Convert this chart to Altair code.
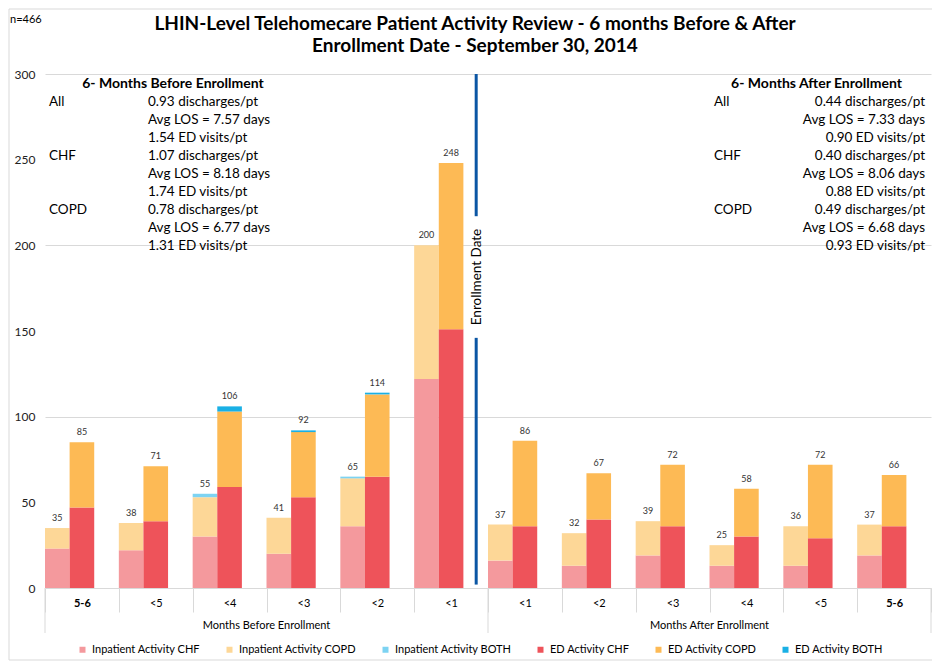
import altair as alt
import pandas as pd

FONT = "Lato"

# ---- data -------------------------------------------------------------
group_keys = ["B5-6", "B<5", "B<4", "B<3", "B<2", "B<1",
              "A<1", "A<2", "A<3", "A<4", "A<5", "A5-6"]

inpatient_chf = [23, 22, 30, 20, 36, 122, 16, 13, 19, 13, 13, 19]
inpatient_copd = [12, 16, 23, 21, 28, 78, 21, 19, 20, 12, 23, 18]
inpatient_both = [0, 0, 2, 0, 1, 0, 0, 0, 0, 0, 0, 0]
ed_chf = [47, 39, 59, 53, 65, 151, 36, 40, 36, 30, 29, 36]
ed_copd = [38, 32, 44, 38, 48, 97, 50, 27, 36, 28, 43, 30]
ed_both = [0, 0, 3, 1, 1, 0, 0, 0, 0, 0, 0, 0]

series_names = ["Inpatient Activity CHF", "Inpatient Activity COPD", "Inpatient Activity BOTH",
                "ED Activity CHF", "ED Activity COPD", "ED Activity BOTH"]
series_colors = ["#F4999D", "#FDD797", "#7DD3F2", "#EE535A", "#FDBA55", "#1AB0E5"]

period_labels = ["Months Before Enrollment", "Months After Enrollment"]
period_anchor = ["B<3", "A<4"]

left_heading = "6- Months Before Enrollment"
left_values = ["0.93 discharges/pt", "Avg LOS = 7.57 days", "1.54 ED visits/pt",
               "1.07 discharges/pt", "Avg LOS = 8.18 days", "1.74 ED visits/pt",
               "0.78 discharges/pt", "Avg LOS = 6.77 days", "1.31 ED visits/pt"]
right_heading = "6- Months After Enrollment"
right_values = ["0.44 discharges/pt", "Avg LOS = 7.33 days", "0.90 ED visits/pt",
                "0.40 discharges/pt", "Avg LOS = 8.06 days", "0.88 ED visits/pt",
                "0.49 discharges/pt", "Avg LOS = 6.68 days", "0.93 ED visits/pt"]
cohorts = ["All", "CHF", "COPD"]

title_lines = ["LHIN-Level Telehomecare Patient Activity Review - 6 months Before & After",
               "Enrollment Date - September 30, 2014"]

# enrollment marker extents (value units) with a gap for its label
enroll_top = [300, 146]
enroll_bottom = [217, 2]
enroll_label_y = [181.5]

# ---- tables -----------------------------------------------------------
rows = []
for kind, lists, names in [("Inpatient", [inpatient_chf, inpatient_copd, inpatient_both], series_names[:3]),
                           ("ED", [ed_chf, ed_copd, ed_both], series_names[3:])]:
    for o, (vals, name) in enumerate(zip(lists, names)):
        for k, v in zip(group_keys, vals):
            rows.append(dict(key=k, kind=kind, series=name, ord=o, value=v))
bars_df = pd.DataFrame(rows)

tot_rows = []
for i, k in enumerate(group_keys):
    tot_rows.append(dict(key=k, kind="Inpatient",
                         total=inpatient_chf[i] + inpatient_copd[i] + inpatient_both[i]))
    tot_rows.append(dict(key=k, kind="ED", total=ed_chf[i] + ed_copd[i] + ed_both[i]))
tot_df = pd.DataFrame(tot_rows)

dummy = pd.DataFrame({"d": [0]})

# ---- scales / axes ----------------------------------------------------
xs = alt.Scale(domain=group_keys, paddingInner=0, paddingOuter=0)
xo = alt.Scale(domain=["Inpatient", "ED", "gap"], paddingInner=0, paddingOuter=0)
ys = alt.Scale(domain=[0, 300], nice=False)

x_axis = alt.Axis(
    title=None, labelExpr="isString(datum.label) ? substring(datum.label, 1) : ''", labelAngle=0,
    tickBand="extent", tickSize=24, tickColor="#d9d9d9", domainColor="#d9d9d9",
    labelPadding=-15, labelFontSize=11, labelFont=FONT, labelColor="#000",
    labelFontWeight={"condition": {"test": "isString(datum.value) && indexof(datum.value, '5-6') >= 0",
                                   "value": "bold"}, "value": "normal"},
)
y_axis = alt.Axis(
    title=None, values=[0, 50, 100, 150, 200, 250, 300], ticks=False,
    domain=False, labelPadding=10, labelFontSize=12, labelFont=FONT, labelColor="#222",
    gridColor={"condition": {"test": "datum.value % 100 === 0 && datum.value > 0",
                             "value": "#d9d9d9"}, "value": "rgba(0,0,0,0)"},
)
leg = alt.Legend(
    title=None, orient="none", legendX=32, legendY=570, direction="horizontal",
    columns=6, columnPadding=23, symbolType="square", symbolSize=36,
    symbolStrokeWidth=0, labelFontSize=11, labelFont=FONT, labelColor="#000",
    labelOffset=4,
)

# ---- layers -----------------------------------------------------------
bars = alt.Chart(bars_df).mark_bar().encode(
    x=alt.X("key:N", scale=xs, axis=x_axis),
    xOffset=alt.XOffset("kind:N", scale=xo),
    y=alt.Y("value:Q", stack="zero", scale=ys, axis=y_axis),
    color=alt.Color("series:N", scale=alt.Scale(domain=series_names, range=series_colors), legend=leg),
    order=alt.Order("ord:Q", sort="ascending"),
)

totals = alt.Chart(tot_df).mark_text(dy=-10, fontSize=9, font=FONT, color="#333").encode(
    x=alt.X("key:N", scale=xs),
    xOffset=alt.XOffset("kind:N", scale=xo),
    y=alt.Y("total:Q", scale=ys),
    text="total:Q",
)

enroll_df = pd.DataFrame({"key": ["B<1", "B<1"], "y": enroll_top, "y2": enroll_bottom})
enroll = alt.Chart(enroll_df).mark_rule(color="#0B56A4", strokeWidth=3).encode(
    x=alt.X("key:N", scale=xs, bandPosition=0.84),
    y=alt.Y("y:Q", scale=ys),
    y2="y2:Q",
)
enroll_txt = alt.Chart(pd.DataFrame({"key": ["B<1"], "y": enroll_label_y, "t": ["Enrollment Date"]})).mark_text(
    angle=270, fontSize=13.5, font=FONT, color="#000", baseline="middle", align="center"
).encode(
    x=alt.X("key:N", scale=xs, bandPosition=0.845),
    y=alt.Y("y:Q", scale=ys),
    text="t:N",
)

div_left = alt.Chart(pd.DataFrame({"key": ["B5-6", "A<1"]})).mark_rule(color="#d9d9d9").encode(
    x=alt.X("key:N", scale=xs, bandPosition=0), y=alt.value(514), y2=alt.value(559))
div_right = alt.Chart(pd.DataFrame({"key": ["A5-6"]})).mark_rule(color="#d9d9d9").encode(
    x=alt.X("key:N", scale=xs, bandPosition=1), y=alt.value(514), y2=alt.value(559))
period_txt = alt.Chart(pd.DataFrame({"key": period_anchor, "t": period_labels})).mark_text(
    fontSize=11, font=FONT, color="#000", baseline="middle", align="center"
).encode(x=alt.X("key:N", scale=xs, bandPosition=0), y=alt.value(552), text="t:N")


def txt(text, x, y, align="left", size=13, weight="normal"):
    return alt.Chart(dummy).mark_text(
        text=text, align=align, baseline="middle", fontSize=size, fontWeight=weight,
        font=FONT, color="#000").encode(x=alt.value(x), y=alt.value(y))


annos = [
    txt(left_heading, 128, 10, align="center", size=14, weight="bold"),
    txt(right_heading, 857, 10, align="right", size=14, weight="bold"),
]
for i, v in enumerate(left_values):
    annos.append(txt(v, 103, 28 + i * 18, size=13.5))
for i, v in enumerate(right_values):
    annos.append(txt(v, 880, 28 + i * 18, align="right", size=13.5))
for i, c in enumerate(cohorts):
    annos.append(txt(c, 4, 28 + i * 54, size=13.5))
    annos.append(txt(c, 669, 28 + i * 54, size=13.5))

title1 = txt(title_lines[0], 430, -50, align="center", size=19, weight="bold")
title2 = txt(title_lines[1], 430, -28, align="center", size=19, weight="bold")
n_txt = txt("n=466", -35, -54, size=11)

border = alt.Chart(dummy).mark_rect(fill="transparent", stroke="#d9d9d9", strokeWidth=1).encode(
    x=alt.value(-36), x2=alt.value(889), y=alt.value(-65), y2=alt.value(586))

chart = alt.layer(
    border, bars, totals, enroll, enroll_txt, div_left, div_right, period_txt,
    title1, title2, n_txt, *annos
).properties(
    width=886, height=514,
    padding={"left": 37, "top": 66, "right": 1, "bottom": 73},
    autosize=alt.AutoSizeParams(type="none"),
    background="white",
).configure_view(stroke=None)

chart.save("out.html", embed_options={"renderer": "svg", "actions": False})
